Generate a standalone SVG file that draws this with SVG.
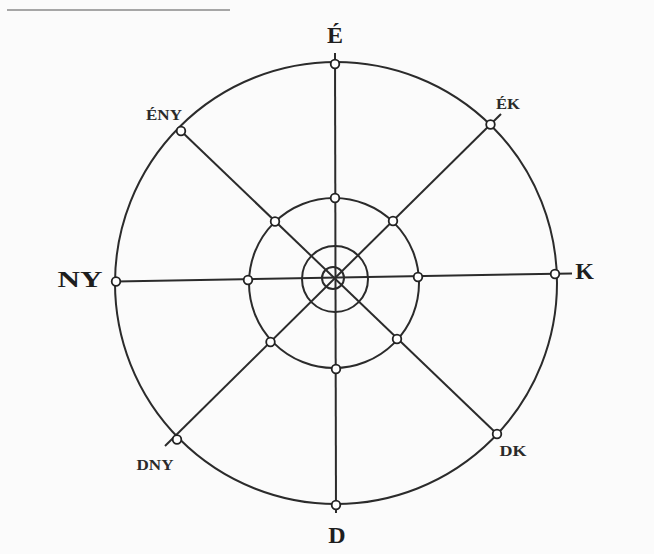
<svg xmlns="http://www.w3.org/2000/svg" width="654" height="554" viewBox="0 0 654 554">
<style>
.ln{fill:none;stroke:#2b2b2b;stroke-width:2}
.nd{fill:#fff;stroke:#222;stroke-width:1.8}
.big{font-family:"Liberation Serif","Times New Roman",serif;font-weight:bold;font-size:24px;fill:#1e1e1e;text-anchor:middle}
.sm{font-family:"Liberation Serif","Times New Roman",serif;font-weight:bold;font-size:14px;fill:#2a2a2a;text-anchor:middle}
</style>
<rect width="654" height="554" fill="#fbfbfb"/>
<line x1="7" y1="10" x2="230" y2="10" stroke="#8a8a8a" stroke-width="1.5"/>
<g id="connectors">
<circle class="ln" cx="336" cy="283" r="221"/>
<circle class="ln" cx="334" cy="283" r="85"/>
<circle class="ln" cx="335" cy="279" r="33"/>
<circle class="ln" cx="333" cy="278" r="11"/>
<line class="ln" x1="335" y1="53" x2="336" y2="513"/>
<line class="ln" x1="116" y1="281.5" x2="572" y2="273.5"/>
<line class="ln" x1="181" y1="131" x2="497" y2="434"/>
<line class="ln" x1="501" y1="114" x2="165" y2="446"/>
</g>
<g id="node-E"><circle class="nd" cx="335" cy="64" r="4.3"/><text class="big" x="335" y="43">É</text></g>
<g id="node-D"><circle class="nd" cx="336" cy="505" r="4.3"/><text class="big" x="337" y="543">D</text></g>
<g id="node-NY"><circle class="nd" cx="116" cy="281.5" r="4.3"/><text class="big" x="80" y="287" textLength="45" lengthAdjust="spacingAndGlyphs">NY</text></g>
<g id="node-K"><circle class="nd" cx="555" cy="274" r="4.3"/><text class="big" x="584.5" y="279">K</text></g>
<g id="node-ENY"><circle class="nd" cx="181" cy="131" r="4.3"/><text class="sm" x="164" y="119.5" textLength="36" lengthAdjust="spacingAndGlyphs">ÉNY</text></g>
<g id="node-EK"><circle class="nd" cx="490.5" cy="124.5" r="4.3"/><text class="sm" x="508" y="109" textLength="24" lengthAdjust="spacingAndGlyphs">ÉK</text></g>
<g id="node-DNY"><circle class="nd" cx="177" cy="439.5" r="4.3"/><text class="sm" x="155" y="470" textLength="37" lengthAdjust="spacingAndGlyphs">DNY</text></g>
<g id="node-DK"><circle class="nd" cx="497" cy="434" r="4.3"/><text class="sm" x="513" y="456" textLength="27" lengthAdjust="spacingAndGlyphs">DK</text></g>
<g id="node-mid-N"><circle class="nd" cx="335" cy="198" r="4.3"/></g>
<g id="node-mid-S"><circle class="nd" cx="336" cy="369" r="4.3"/></g>
<g id="node-mid-W"><circle class="nd" cx="248" cy="280" r="4.3"/></g>
<g id="node-mid-E"><circle class="nd" cx="418" cy="277" r="4.3"/></g>
<g id="node-mid-NW"><circle class="nd" cx="275" cy="221.5" r="4.3"/></g>
<g id="node-mid-NE"><circle class="nd" cx="393" cy="221" r="4.3"/></g>
<g id="node-mid-SW"><circle class="nd" cx="270.5" cy="342" r="4.3"/></g>
<g id="node-mid-SE"><circle class="nd" cx="397" cy="339" r="4.3"/></g>
</svg>
